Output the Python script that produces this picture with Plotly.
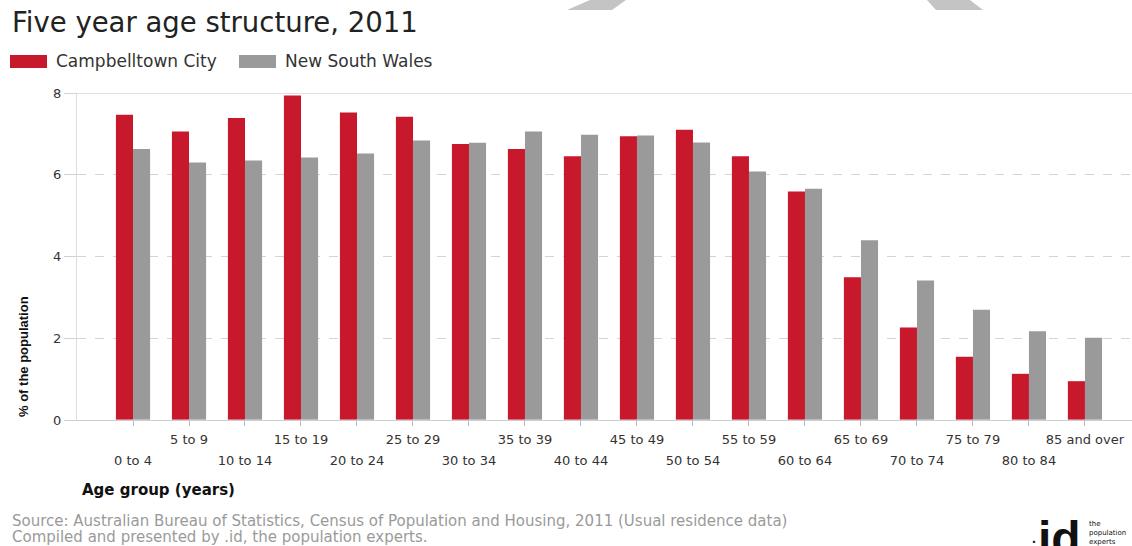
import plotly.graph_objects as go

categories = ["0 to 4", "5 to 9", "10 to 14", "15 to 19", "20 to 24", "25 to 29",
              "30 to 34", "35 to 39", "40 to 44", "45 to 49", "50 to 54", "55 to 59",
              "60 to 64", "65 to 69", "70 to 74", "75 to 79", "80 to 84", "85 and over"]
campbelltown = [7.47, 7.06, 7.39, 7.94, 7.52, 7.42, 6.75, 6.63, 6.45, 6.94,
                7.10, 6.45, 5.59, 3.49, 2.26, 1.55, 1.13, 0.95]
nsw = [6.63, 6.30, 6.35, 6.42, 6.52, 6.84, 6.78, 7.06, 6.98, 6.96,
       6.79, 6.08, 5.66, 4.40, 3.41, 2.70, 2.17, 2.01]
y_ticks = [0, 2, 4, 6, 8]

W, H = 1132, 546
L, R, T, B = 77, 0, 93, 126
PW, PH = W - L - R, H - T - B

RED = "#C8182C"
GREY = "#9A9A9A"
FONT = "DejaVu Sans"


def px(x):
    return (x - L) / PW


def py(y):
    return (H - B - y) / PH


fig = go.Figure()
fig.add_trace(go.Bar(x=categories, y=campbelltown, name="Campbelltown City",
                     marker=dict(color=RED, line=dict(width=0)), showlegend=False))
fig.add_trace(go.Bar(x=categories, y=nsw, name="New South Wales",
                     marker=dict(color=GREY, line=dict(width=0)), showlegend=False))

odd_text = [c if i % 2 == 1 else "" for i, c in enumerate(categories)]
even_vals = [c for i, c in enumerate(categories) if i % 2 == 0]

fig.update_layout(
    width=W, height=H,
    margin=dict(l=L, r=R, t=T, b=B, pad=0),
    paper_bgcolor="white", plot_bgcolor="white",
    barmode="group", bargap=0.39, bargroupgap=0,
    font=dict(family=FONT, color="#333333"),
    xaxis=dict(
        type="category", categoryorder="array", categoryarray=categories,
        range=[-1.0, 17.84],
        tickmode="array", tickvals=categories, ticktext=odd_text,
        ticks="outside", ticklen=5, tickcolor="#bbbbbb",
        showline=True, linecolor="#cccccc", linewidth=1,
        showgrid=False, zeroline=False,
        tickfont=dict(family=FONT, size=13, color="#333333"),
        ticklabelstandoff=2,
    ),
    xaxis2=dict(
        type="category", categoryorder="array", categoryarray=categories,
        overlaying="x", matches="x", anchor="y", side="bottom",
        tickmode="array", tickvals=even_vals, ticktext=even_vals,
        ticks="", showline=False, showgrid=False, zeroline=False,
        tickfont=dict(family=FONT, size=13, color="#333333"),
        ticklabelstandoff=31,
    ),
    yaxis=dict(
        range=[0, 8], tickmode="array", tickvals=y_ticks,
        ticks="outside", ticklen=12, tickcolor="#d0d0d0",
        showline=True, linecolor="#dddddd", linewidth=1,
        showgrid=True, gridcolor="#d4d4d4", griddash="dash", gridwidth=1,
        zeroline=False,
        tickfont=dict(family=FONT, size=13, color="#333333"),
    ),
)

# invisible anchor trace for the secondary category axis
fig.add_trace(go.Bar(x=categories, y=[0] * len(categories), xaxis="x2",
                     marker=dict(color="rgba(0,0,0,0)"), showlegend=False,
                     hoverinfo="skip"))

shapes = [
    # solid top grid line at 8
    dict(type="line", xref="paper", yref="y", x0=-0.012, x1=1, y0=8, y1=8,
         line=dict(color="#d6d6d6", width=1.5)),
    # legend swatches
    dict(type="rect", xref="paper", yref="paper", x0=px(10), x1=px(47), y0=py(68), y1=py(55),
         fillcolor=RED, line=dict(width=0)),
    dict(type="rect", xref="paper", yref="paper", x0=px(239), x1=px(276), y0=py(68), y1=py(55),
         fillcolor=GREY, line=dict(width=0)),
    # faint watermark fragments at top
    dict(type="path", xref="paper", yref="paper",
         path=f"M {px(590)} {py(0)} L {px(626)} {py(0)} L {px(612)} {py(10)} L {px(567)} {py(10)} Z",
         fillcolor="#c4c4c4", line=dict(width=0), layer="below"),
    dict(type="path", xref="paper", yref="paper",
         path=f"M {px(927)} {py(0)} L {px(970)} {py(0)} L {px(983)} {py(10)} L {px(936)} {py(10)} Z",
         fillcolor="#c4c4c4", line=dict(width=0), layer="below"),
]
fig.update_layout(shapes=shapes)

annotations = [
    dict(text="Five year age structure, 2011", xref="paper", yref="paper",
         x=px(10), y=py(22), xanchor="left", yanchor="middle", showarrow=False,
         font=dict(family=FONT, size=27.5, color="#222222")),
    dict(text="Campbelltown City", xref="paper", yref="paper",
         x=px(54), y=py(61), xanchor="left", yanchor="middle", showarrow=False,
         font=dict(family=FONT, size=17, color="#333333")),
    dict(text="New South Wales", xref="paper", yref="paper",
         x=px(283), y=py(61), xanchor="left", yanchor="middle", showarrow=False,
         font=dict(family=FONT, size=17, color="#333333")),
    dict(text="<b>% of the population</b>", xref="paper", yref="paper",
         x=px(23), y=py(357), xanchor="center", yanchor="middle", showarrow=False,
         textangle=-90, font=dict(family="Liberation Sans", size=13, color="#111111")),
    dict(text="<b>Age group (years)</b>", xref="paper", yref="paper",
         x=px(80), y=py(490), xanchor="left", yanchor="middle", showarrow=False,
         font=dict(family=FONT, size=15, color="#111111")),
    dict(text="Source: Australian Bureau of Statistics, Census of Population and Housing, 2011 (Usual residence data)",
         xref="paper", yref="paper", x=px(10), y=py(521), xanchor="left", yanchor="middle",
         showarrow=False, font=dict(family=FONT, size=15, color="#9a9a9a")),
    dict(text="Compiled and presented by .id, the population experts.",
         xref="paper", yref="paper", x=px(10), y=py(537), xanchor="left", yanchor="middle",
         showarrow=False, font=dict(family=FONT, size=15, color="#9a9a9a")),
    dict(text="<b>id</b>", xref="paper", yref="paper",
         x=px(1059), y=py(510), xanchor="center", yanchor="top", showarrow=False,
         font=dict(family="Liberation Sans", size=48, color="#111111")),
    dict(text="<b>.</b>", xref="paper", yref="paper",
         x=px(1034), y=py(528), xanchor="center", yanchor="top", showarrow=False,
         font=dict(family="Liberation Sans", size=14, color="#111111")),
    dict(text="the<br>population<br>experts", xref="paper", yref="paper",
         x=px(1087), y=py(518), xanchor="left", yanchor="top", align="left", showarrow=False,
         font=dict(family=FONT, size=7, color="#111111")),
]
fig.update_layout(annotations=annotations)

fig.write_html("out.html", config={"displayModeBar": False},
               post_script="document.body.style.margin='0';document.body.style.overflow='hidden';")
